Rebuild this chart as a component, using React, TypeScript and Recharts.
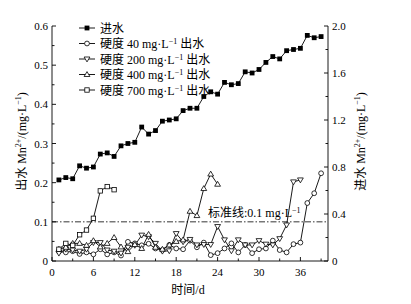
import { ComposedChart, Legend, Line, ReferenceLine, XAxis, YAxis } from "recharts";

const FONT = "'Liberation Serif', 'Times New Roman', 'Noto Sans CJK SC', serif";
const INK = "#000";

// day of sampling
const DAYS = [
  1, 2, 3, 4, 5, 6, 7, 8, 9, 10, 11, 12, 13, 14, 15, 16, 17, 18, 19, 20,
  21, 22, 23, 24, 25, 26, 27, 28, 29, 30, 31, 32, 33, 34, 35, 36, 37, 38, 39,
];

// influent Mn2+ (right axis)
const INFLOW = [
  0.69, 0.71, 0.7, 0.81, 0.79, 0.8, 0.91, 0.92, 0.89, 0.98, 1.0, 1.01, 1.14, 1.08, 1.11, 1.19, 1.2, 1.21, 1.28, 1.3,
  1.3, 1.4, 1.44, 1.42, 1.52, 1.5, 1.51, 1.61, 1.6, 1.63, 1.69, 1.74, 1.72, 1.79, 1.8, 1.81, 1.92, 1.9, 1.91,
];

// effluent Mn2+ by hardness (left axis)
const H40 = [
  0.024, 0.022, 0.025, 0.018, 0.022, 0.017, 0.03, 0.017, 0.022, 0.014, 0.049, 0.045, 0.04, 0.044, 0.032, 0.028, 0.041, 0.032, 0.03, 0.052,
  0.035, 0.047, 0.015, 0.02, 0.032, 0.045, 0.022, 0.041, 0.02, 0.03, 0.032, 0.052, 0.028, 0.022, 0.043, 0.047, 0.148, 0.173, 0.224,
];
const H200 = [
  0.02, 0.03, 0.028, 0.025, 0.03, 0.047, 0.047, 0.028, 0.025, 0.02, 0.035, 0.04, 0.066, 0.062, 0.045, 0.025, 0.026, 0.07, 0.049, 0.055,
  0.041, 0.042, 0.042, 0.088, 0.054, 0.026, 0.054, 0.041, 0.041, 0.052, 0.043, 0.041, 0.057, 0.092, 0.202, 0.207,
];
const H400 = [
  0.03, 0.035, 0.045, 0.045, 0.04, 0.052, 0.036, 0.045, 0.06, 0.036, 0.024, 0.042, 0.032, 0.068, 0.035, 0.03, 0.041, 0.05, 0.054, 0.127,
  0.116, 0.185, 0.222, 0.196,
];
const H700 = [0.03, 0.045, 0.04, 0.067, 0.079, 0.109, 0.179, 0.19, 0.182];

const STANDARD = 0.1;

const X_TICKS = [0, 3, 6, 9, 12, 15, 18, 21, 24, 27, 30, 33, 36, 39];
const LEFT_TICKS = [0, 0.05, 0.1, 0.15, 0.2, 0.25, 0.3, 0.35, 0.4, 0.45, 0.5, 0.55, 0.6];
const RIGHT_TICKS = [0, 0.2, 0.4, 0.6, 0.8, 1.0, 1.2, 1.4, 1.6, 1.8, 2.0];

const toRows = (vals: number[]) => vals.map((v, i) => ({ day: DAYS[i], v }));

type Kind = "fsq" | "circ" | "tdown" | "tup" | "osq";

const SERIES: { key: string; kind: Kind; vals: number[]; axis: string; hard?: string }[] = [
  { key: "in", kind: "fsq", vals: INFLOW, axis: "right" },
  { key: "h40", kind: "circ", vals: H40, axis: "left", hard: "40" },
  { key: "h200", kind: "tdown", vals: H200, axis: "left", hard: "200" },
  { key: "h400", kind: "tup", vals: H400, axis: "left", hard: "400" },
  { key: "h700", kind: "osq", vals: H700, axis: "left", hard: "700" },
];

function Marker({ kind, cx, cy }: { kind: Kind; cx: number; cy: number }) {
  if (cx == null || cy == null) return null;
  const sw = 0.8;
  switch (kind) {
    case "fsq":
      return <rect x={cx - 2.4} y={cy - 2.4} width={4.8} height={4.8} fill={INK} />;
    case "circ":
      return <circle cx={cx} cy={cy} r={2.4} fill="#fff" stroke={INK} strokeWidth={sw} />;
    case "tdown":
      return <path d={`M${cx - 2.9},${cy - 2} L${cx + 2.9},${cy - 2} L${cx},${cy + 2.9} Z`} fill="#fff" stroke={INK} strokeWidth={sw} />;
    case "tup":
      return <path d={`M${cx - 2.9},${cy + 2} L${cx + 2.9},${cy + 2} L${cx},${cy - 2.9} Z`} fill="#fff" stroke={INK} strokeWidth={sw} />;
    default:
      return <rect x={cx - 2.2} y={cy - 2.2} width={4.4} height={4.4} fill="#fff" stroke={INK} strokeWidth={sw} />;
  }
}

const isMajor = (v: number, step: number) => Math.abs(v / step - Math.round(v / step)) < 1e-6;

function LeftTick({ x, y, payload }: any) {
  const major = isMajor(payload.value, 0.1);
  return (
    <g>
      <line x1={x} x2={x + (major ? 4 : 2.5)} y1={y} y2={y} stroke={INK} strokeWidth={0.9} />
      {major && (
        <text x={x - 4} y={y + 4} textAnchor="end" fontSize={11} fontFamily={FONT} fill={INK}>
          {payload.value === 0 ? "0" : payload.value.toFixed(1)}
        </text>
      )}
    </g>
  );
}

function RightTick({ x, y, payload }: any) {
  const major = isMajor(payload.value, 0.4);
  return (
    <g>
      <line x1={x} x2={x - (major ? 4 : 2.5)} y1={y} y2={y} stroke={INK} strokeWidth={0.9} />
      {major && (
        <text x={x + 4} y={y + 4} textAnchor="start" fontSize={11} fontFamily={FONT} fill={INK}>
          {payload.value === 0 ? "0" : payload.value.toFixed(1)}
        </text>
      )}
    </g>
  );
}

function BottomTick({ x, y, payload }: any) {
  const major = isMajor(payload.value, 6);
  return (
    <g>
      <line x1={x} x2={x} y1={y} y2={y - (major ? 4 : 2.5)} stroke={INK} strokeWidth={0.9} />
      {major && (
        <text x={x} y={y + 15} textAnchor="middle" fontSize={11} fontFamily={FONT} fill={INK}>
          {payload.value}
        </text>
      )}
    </g>
  );
}

function UnitText({ prefix, sup }: { prefix: string; sup?: boolean }) {
  return (
    <>
      {prefix}
      {sup && (
        <>
          Mn<tspan dy={-4} fontSize={8}>2+</tspan>
          <tspan dy={4}>/(mg·L</tspan>
          <tspan dy={-4} fontSize={8}>−1</tspan>
          <tspan dy={4}>)</tspan>
        </>
      )}
    </>
  );
}

function AxisTitle({ viewBox, prefix, dx }: any) {
  const vb = viewBox ?? { x: 0, y: 26, width: 44, height: 235 };
  const cx = vb.x + dx;
  const cy = vb.y + vb.height / 2 - 2;
  return (
    <text
      x={cx}
      y={cy}
      textAnchor="middle"
      dominantBaseline="central"
      transform={`rotate(-90, ${cx}, ${cy})`}
      fontSize={12}
      fontFamily={FONT}
      fill={INK}
    >
      <UnitText prefix={prefix} sup />
    </text>
  );
}

function XTitle({ viewBox }: any) {
  const vb = viewBox ?? { x: 52, y: 261, width: 276, height: 43 };
  return (
    <text x={vb.x + vb.width / 2 - 2} y={vb.y + 33} textAnchor="middle" fontSize={12} fontFamily={FONT} fill={INK}>
      时间/d
    </text>
  );
}

function StdLabel({ viewBox }: any) {
  const vb = viewBox ?? { x: 52, y: 222, width: 276 };
  return (
    <text x={vb.x + vb.width - 120} y={vb.y - 4.5} fontSize={12} fontFamily={FONT} fill={INK}>
      标准线:0.1 mg·L<tspan dy={-4} fontSize={8}>−1</tspan>
    </text>
  );
}

function LegendBox() {
  return (
    <svg width={170} height={84}>
      {SERIES.map((s, i) => {
        const y = 8 + i * 15.5;
        return (
          <g key={s.key}>
            <line x1={3} x2={19} y1={y} y2={y} stroke={INK} strokeWidth={0.9} />
            <Marker kind={s.kind} cx={11} cy={y} />
            <text x={24} y={y + 4.5} fontSize={12} fontFamily={FONT} fill={INK}>
              {s.hard ? (
                <>
                  硬度 {s.hard} mg·L<tspan dy={-4} fontSize={8}>−1</tspan>
                  <tspan dy={4}> 出水</tspan>
                </>
              ) : (
                "进水"
              )}
            </text>
          </g>
        );
      })}
    </svg>
  );
}

export default function App() {
  return (
    <div style={{ position: "absolute", left: 0, top: 0, background: "#fff" }}>
      <ComposedChart width={411} height={304} margin={{ top: 26, right: 39, bottom: 0, left: 8 }}>
        <XAxis
          dataKey="day"
          type="number"
          domain={[0, 40]}
          ticks={X_TICKS}
          interval={0}
          tickSize={0}
          tickMargin={0}
          tickLine={false}
          tick={<BottomTick />}
          axisLine={{ stroke: INK, strokeWidth: 0.9 }}
          height={43}
          allowDataOverflow
          label={<XTitle />}
        />
        <YAxis
          yAxisId="left"
          type="number"
          domain={[0, 0.6]}
          ticks={LEFT_TICKS}
          interval={0}
          tickSize={0}
          tickMargin={0}
          tickLine={false}
          tick={<LeftTick />}
          axisLine={{ stroke: INK, strokeWidth: 0.9 }}
          width={44}
          label={<AxisTitle prefix="出水 " dx={14} />}
        />
        <YAxis
          yAxisId="right"
          orientation="right"
          type="number"
          domain={[0, 2]}
          ticks={RIGHT_TICKS}
          interval={0}
          tickSize={0}
          tickMargin={0}
          tickLine={false}
          tick={<RightTick />}
          axisLine={{ stroke: INK, strokeWidth: 0.9 }}
          width={44}
          label={<AxisTitle prefix="进水 " dx={33} />}
        />
        <ReferenceLine
          yAxisId="left"
          y={STANDARD}
          stroke={INK}
          strokeWidth={0.8}
          strokeDasharray="6 2 1.5 2"
          label={<StdLabel />}
        />
        <Legend
          layout="vertical"
          align="center"
          verticalAlign="middle"
          content={() => <LegendBox />}
          wrapperStyle={{ left: 76, top: 19.5, width: 170 }}
        />
        {SERIES.map((s) => (
          <Line
            key={s.key}
            data={toRows(s.vals)}
            dataKey="v"
            yAxisId={s.axis}
            type="linear"
            stroke={INK}
            strokeWidth={0.9}
            isAnimationActive={false}
            dot={(p: any) => (
              <g key={`${s.key}-${p.index}`}>
                <Marker kind={s.kind} cx={p.cx} cy={p.cy} />
              </g>
            )}
            activeDot={false}
          />
        ))}
      </ComposedChart>
    </div>
  );
}
